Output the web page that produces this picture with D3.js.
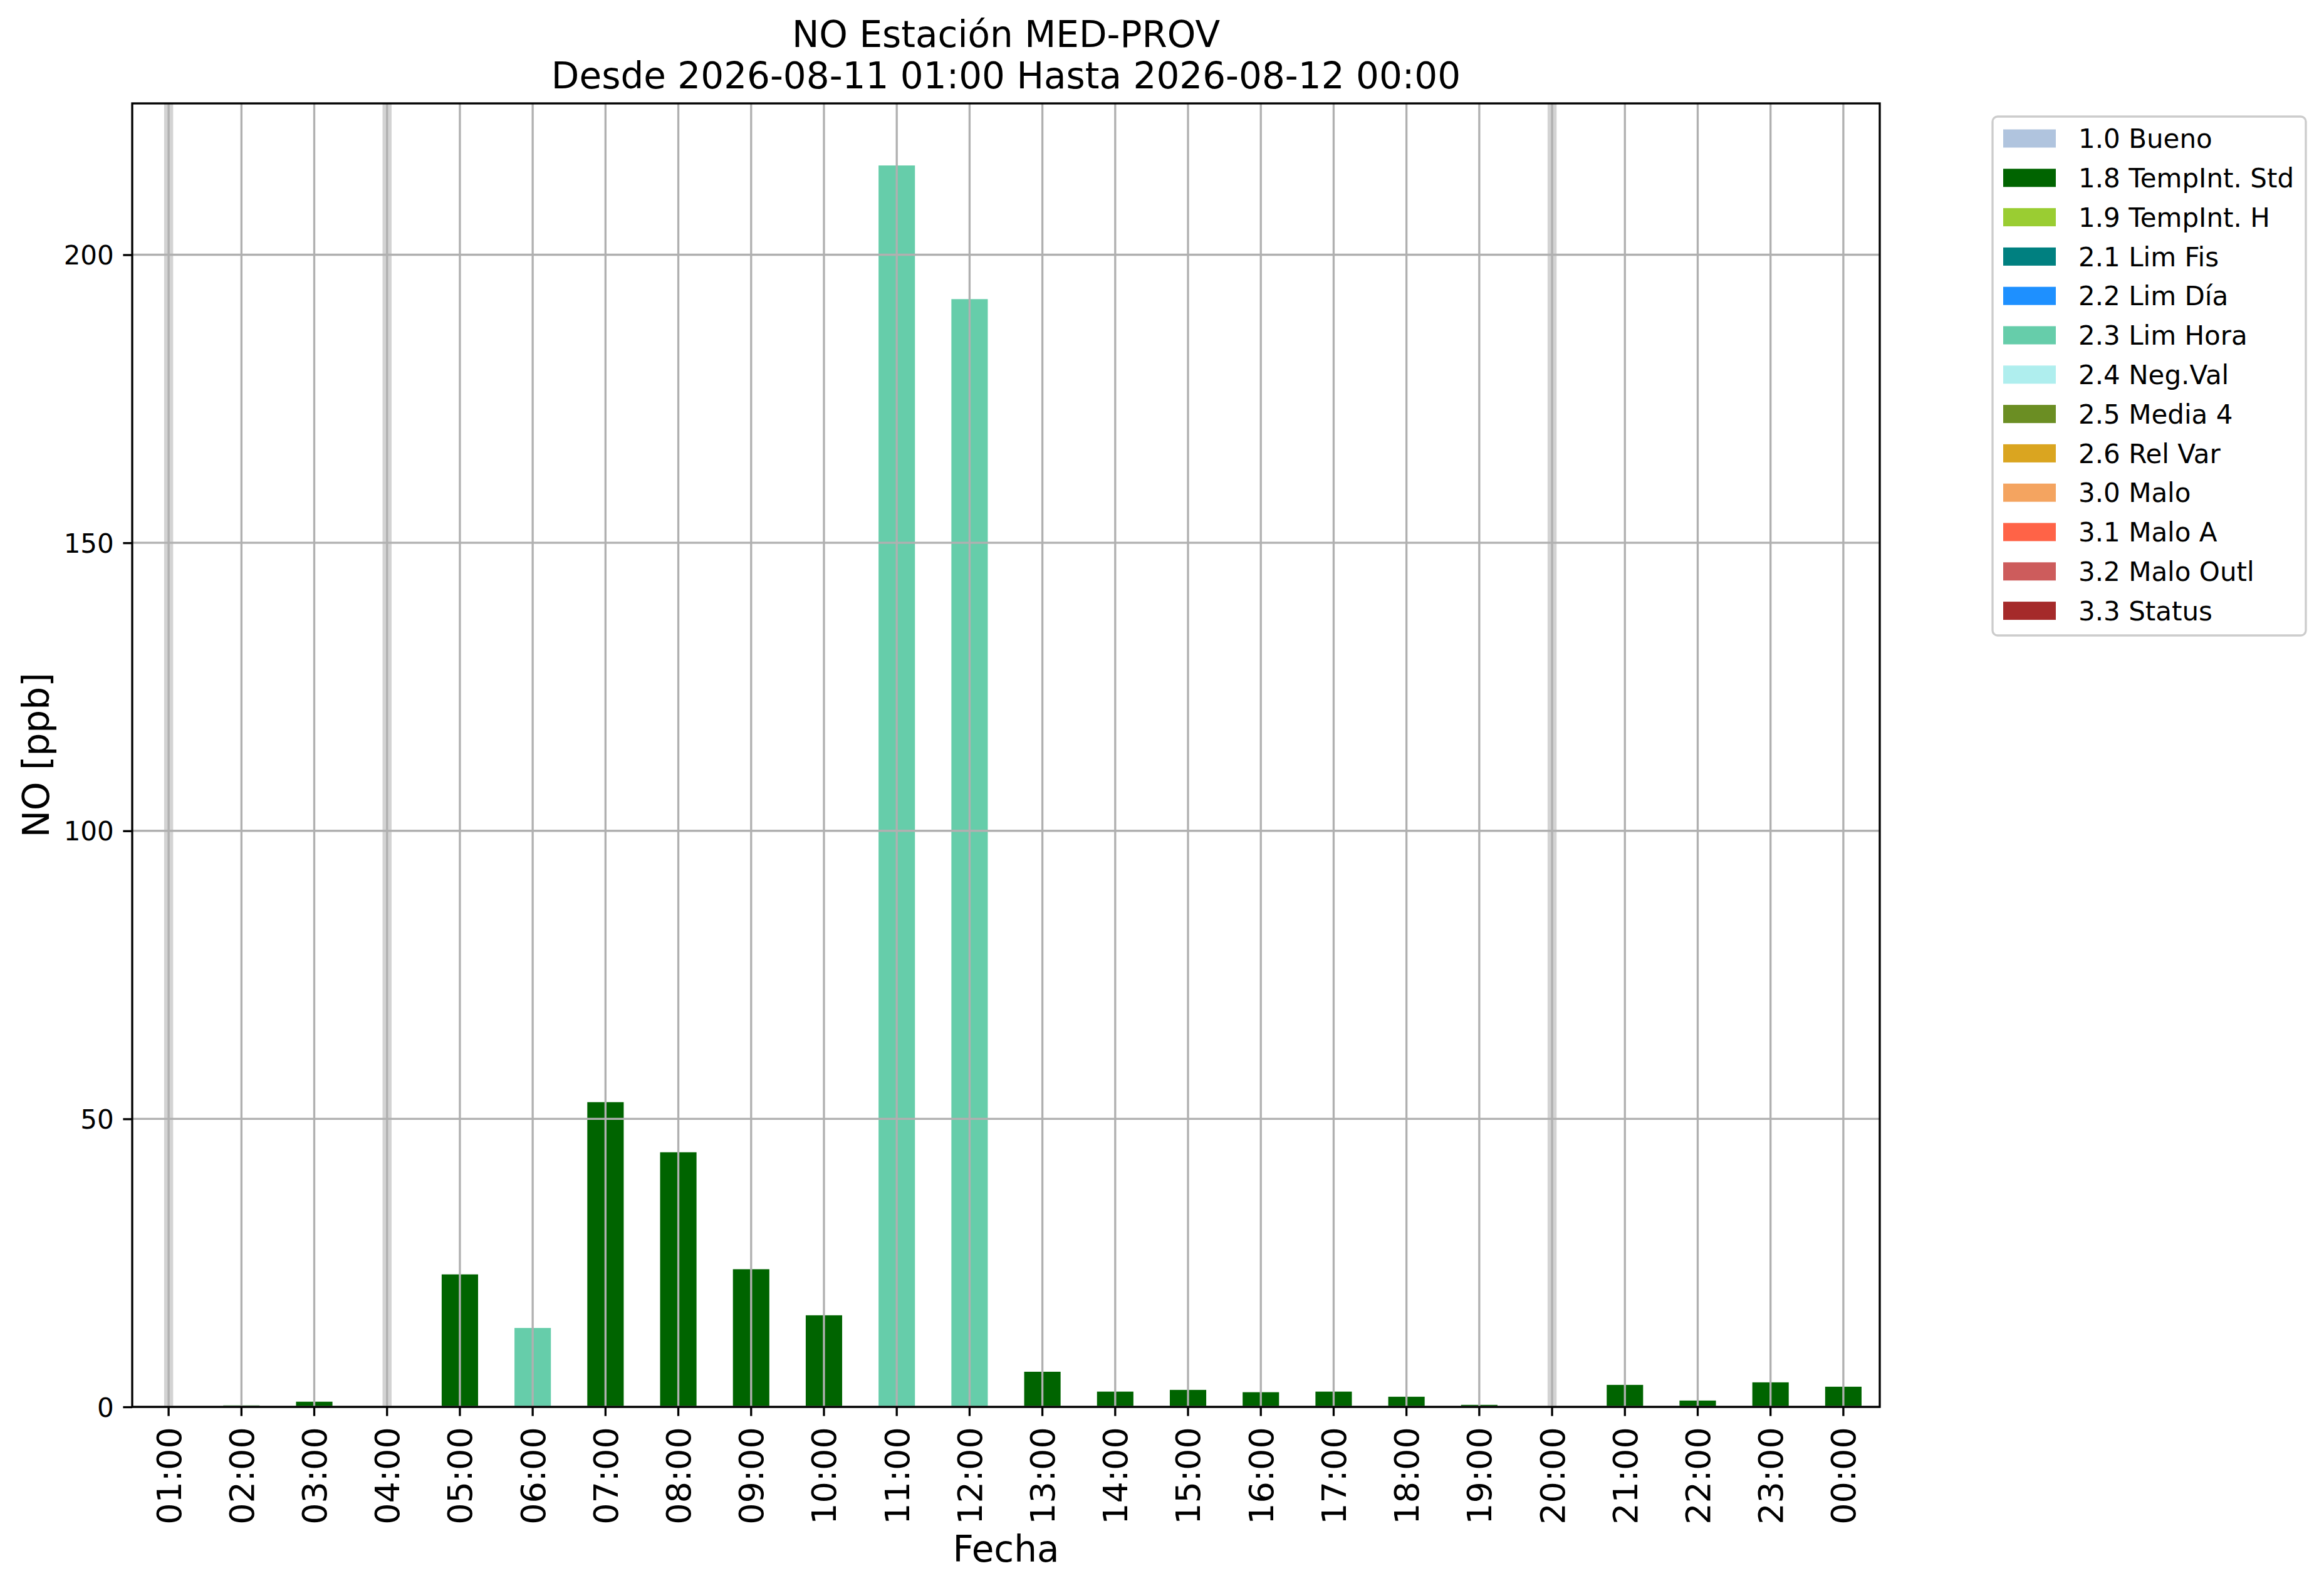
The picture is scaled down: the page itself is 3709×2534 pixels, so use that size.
<!DOCTYPE html>
<html>
<head>
<meta charset="utf-8">
<script src="https://cdn.jsdelivr.net/npm/d3@7"></script>
<style>
  html, body { margin: 0; padding: 0; background: #ffffff; }
  svg { display: block; font-family: "DejaVu Sans", sans-serif; }
</style>
</head>
<body>
<svg id="chart" width="3709" height="2534"></svg>
<script>
// ---------- data ----------
const hours = ["01:00","02:00","03:00","04:00","05:00","06:00","07:00","08:00","09:00","10:00","11:00","12:00",
               "13:00","14:00","15:00","16:00","17:00","18:00","19:00","20:00","21:00","22:00","23:00","00:00"];
const values = [null, 0.25, 0.9, null, 23.0, 13.7, 52.9, 44.2, 23.9, 15.9, 215.5, 192.3,
                6.1, 2.65, 2.95, 2.55, 2.65, 1.76, 0.35, null, 3.82, 1.1, 4.26, 3.5];
const flags = [null, "1.8", "1.8", null, "1.8", "2.3", "1.8", "1.8", "1.8", "1.8", "2.3", "2.3",
               "1.8", "1.8", "1.8", "1.8", "1.8", "1.8", "1.8", null, "1.8", "1.8", "1.8", "1.8"];
const legendCodes = ["1.0","1.8","1.9","2.1","2.2","2.3","2.4","2.5","2.6","3.0","3.1","3.2","3.3"];
const legendLabels = ["1.0 Bueno","1.8 TempInt. Std","1.9 TempInt. H","2.1 Lim Fis","2.2 Lim Día","2.3 Lim Hora",
                      "2.4 Neg.Val","2.5 Media 4","2.6 Rel Var","3.0 Malo","3.1 Malo A","3.2 Malo Outl","3.3 Status"];
const legendColors = ["#B0C4DE","#006400","#9ACD32","#008080","#1E90FF","#66CDAA",
                      "#AFEEEE","#6B8E23","#DAA520","#F4A460","#FF6347","#CD5C5C","#A52A2A"];
const yTicks = [0, 50, 100, 150, 200];
const titleLines = ["NO Estación MED-PROV", "Desde 2026-08-11 01:00 Hasta 2026-08-12 00:00"];
const xLabel = "Fecha";
const yLabel = "NO [ppb]";

// ---------- layout ----------
const L = 211, R = 3000, T = 165, B = 2245;
const lw = 3.33, tickLen = 14.6, tickPad = 14.6;
const svg = d3.select("#chart");
svg.append("rect").attr("width", 3709).attr("height", 2534).attr("fill", "#fff");

const x = d3.scaleBand().domain(hours).range([L, R]).paddingInner(0).paddingOuter(0);
const ymax = d3.max(values) * 1.05;
const y = d3.scaleLinear().domain([0, ymax]).range([B, T]);
const colorOf = d3.scaleOrdinal().domain(legendCodes).range(legendColors);

const data = hours.map((h, i) => ({h, v: values[i], f: flags[i]}));
const bw = x.bandwidth();
const cx = h => x(h) + bw / 2;

// missing-data bands
svg.append("g").selectAll("rect").data(data.filter(d => d.v === null)).join("rect")
  .attr("x", d => cx(d.h) - bw * 0.062).attr("width", bw * 0.124)
  .attr("y", T).attr("height", B - T).attr("fill", "#d3d3d3");

// bars
svg.append("g").selectAll("rect").data(data.filter(d => d.v !== null)).join("rect")
  .attr("x", d => cx(d.h) - bw * 0.25).attr("width", bw * 0.5)
  .attr("y", d => y(d.v)).attr("height", d => y(0) - y(d.v))
  .attr("fill", d => colorOf(d.f));

// grid (drawn above bars)
const grid = svg.append("g").attr("stroke", "#b0b0b0").attr("stroke-width", lw);
grid.selectAll("line.v").data(hours).join("line").attr("class", "v")
  .attr("x1", d => cx(d)).attr("x2", d => cx(d)).attr("y1", T).attr("y2", B);
grid.selectAll("line.h").data(yTicks).join("line").attr("class", "h")
  .attr("x1", L).attr("x2", R).attr("y1", d => y(d)).attr("y2", d => y(d));

// axes
const yAxis = svg.append("g").attr("transform", `translate(${L},0)`)
  .call(d3.axisLeft(y).tickValues(yTicks).tickSize(tickLen).tickPadding(tickPad).tickFormat(d3.format("d")));
yAxis.select(".domain").remove();
yAxis.selectAll(".tick line").attr("stroke", "#000").attr("stroke-width", lw);
yAxis.selectAll(".tick text").attr("font-size", 42).attr("font-family", "DejaVu Sans").attr("fill", "#000").attr("dy", "0.36em");

const xAxis = svg.append("g").attr("transform", `translate(0,${B})`)
  .call(d3.axisBottom(x).tickSize(tickLen).tickPadding(tickPad));
xAxis.select(".domain").remove();
xAxis.selectAll(".tick line").attr("stroke", "#000").attr("stroke-width", lw);
xAxis.selectAll(".tick text")
  .attr("font-size", 54).attr("font-family", "DejaVu Sans").attr("fill", "#000")
  .attr("transform", "rotate(-90)").attr("text-anchor", "end")
  .attr("x", -(tickLen + tickPad + 3)).attr("y", 0).attr("dy", "0.36em");

// spines
svg.append("rect").attr("x", L).attr("y", T).attr("width", R - L).attr("height", B - T)
  .attr("fill", "none").attr("stroke", "#000").attr("stroke-width", lw);

// title
svg.append("g").selectAll("text").data(titleLines).join("text")
  .attr("x", (L + R) / 2).attr("y", (d, i) => 75 + i * 66)
  .attr("text-anchor", "middle").attr("font-size", 58).attr("fill", "#000").text(d => d);

// axis labels
svg.append("text").attr("x", (L + R) / 2).attr("y", 2492).attr("text-anchor", "middle")
  .attr("font-size", 58).attr("fill", "#000").text(xLabel);
svg.append("text").attr("transform", `translate(78,${(T + B) / 2}) rotate(-90)`)
  .attr("text-anchor", "middle").attr("font-size", 58).attr("fill", "#000").text(yLabel);

// legend
const lg = svg.append("g");
lg.append("rect").attr("x", 3180).attr("y", 186).attr("width", 500).attr("height", 828)
  .attr("rx", 8).attr("fill", "#fff").attr("fill-opacity", 0.8)
  .attr("stroke", "#cccccc").attr("stroke-width", lw);
const rows = lg.selectAll("g.row").data(legendLabels).join("g").attr("class", "row")
  .attr("transform", (d, i) => `translate(0,${221 + i * 62.8})`);
rows.append("rect").attr("x", 3197).attr("y", -14.5).attr("width", 84).attr("height", 29)
  .attr("fill", (d, i) => legendColors[i]);
rows.append("text").attr("x", 3317).attr("y", 0).attr("dy", "0.36em")
  .attr("font-size", 42).attr("fill", "#000").text(d => d);
</script>
</body>
</html>
